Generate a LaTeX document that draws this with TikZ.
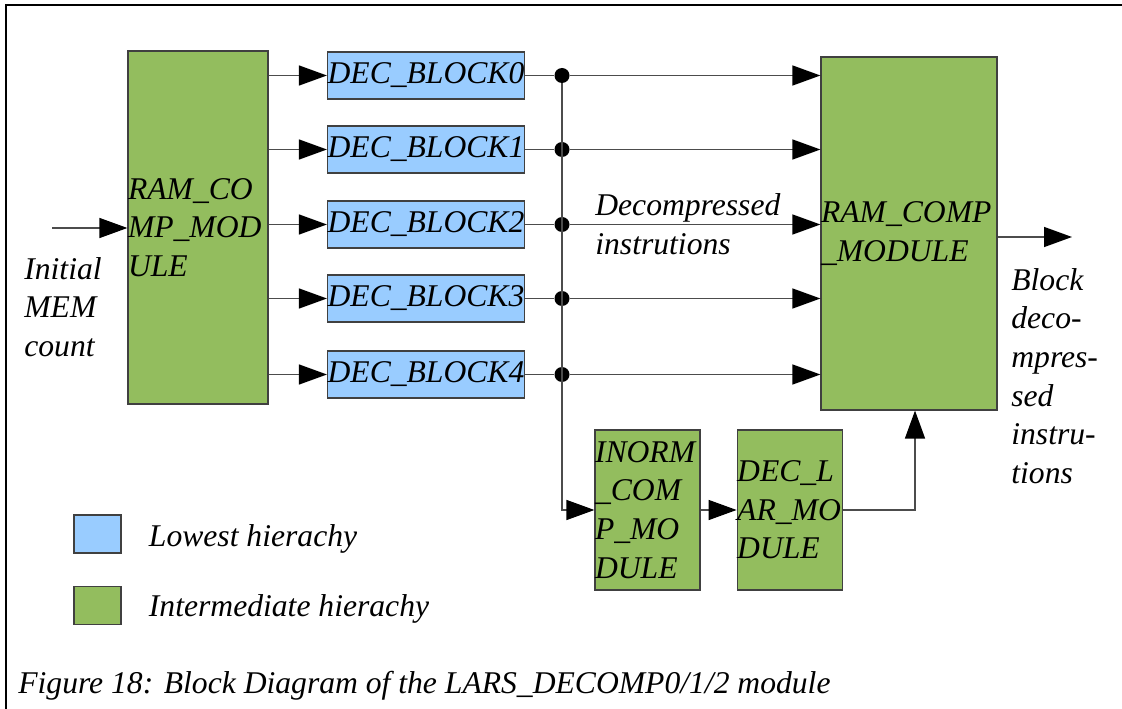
\documentclass[tikz,border=0pt]{standalone}
\usepackage{fontspec}
\setmainfont{Liberation Serif}
\usetikzlibrary{arrows.meta, positioning}
\definecolor{lowblue}{RGB}{153,204,255}
\definecolor{midgreen}{RGB}{147,189,94}
\newcommand{\diafont}{\fontsize{18}{22}\selectfont\itshape}

\begin{document}
\begin{tikzpicture}[x=0.02cm, y=-0.02cm]
    % Define styles
    \tikzstyle{every node}=[font=\diafont]
    \tikzstyle{lowest}=[draw=black!75, line width=0.7pt, fill=lowblue, inner sep=0pt]
    \tikzstyle{middle}=[draw=black!75, line width=0.7pt, fill=midgreen, inner sep=0pt, align=left]
    \tikzstyle{wire}=[black!70, line width=0.8pt]
    \tikzstyle{arr}=[wire, -{Triangle[length=0.56cm, width=0.4cm, color=black]}]
    \tikzstyle{dot}=[circle, fill=black, inner sep=0pt, minimum size=0.3cm]

    \useasboundingbox (0,0) rectangle (1122,709);
    % Frame (only left and top edges are visible)
    \draw[line width=0.6pt] (6,709) -- (6,5) -- (1122,5);

    % Left module
    \node[middle, text width=2.8cm, minimum height=7.06cm] (ramin) at (198,227.5) {RAM\_CO\\MP\_MOD\\ULE};

    % DEC blocks (lowest hierachy)
    \foreach \i/\y in {0/75.5, 1/149.5, 2/224.5, 3/298.5, 4/374.5} {
        \node[lowest, minimum width=3.94cm, minimum height=0.94cm] (dec\i) at (426,\y) {DEC\_BLOCK\i};
    }

    % Right module
    \node[middle, text width=3.52cm, minimum height=7.06cm] (ramout) at (909,233.5) {RAM\_COMP\\\_MODULE};

    % Lower modules
    \node[middle, text width=2.1cm, minimum height=3.2cm] (inorm) at (647.5,510) {INORM\\\_COM\\P\_MO\\DULE};
    \node[middle, text width=2.1cm, minimum height=3.2cm, right=0.72cm of inorm] (declar) {DEC\_L\\AR\_MO\\DULE};

    % Connectors
    \coordinate (inbeg) at (52,228);
    \draw[arr] (inbeg) -- (inbeg -| ramin.west);
    \coordinate (busx) at (562,0);
    \foreach \i in {0,...,4} {
        \draw[arr] (ramin.east |- dec\i) -- (dec\i.west);
        \node[dot] (j\i) at (dec\i.east -| busx) {};
        \draw[wire] (dec\i.east) -- (j\i);
        \draw[arr] (j\i) -- (j\i -| ramout.west);
    }
    \draw[arr] (j0) |- (inorm.west);
    \draw[arr] (inorm) -- (declar);
    \draw[arr] (declar.east) -| ([xshift=0.12cm]ramout.south);
    \coordinate (outend) at (1072,237);
    \draw[arr] (ramout.east |- outend) -- (outend);

    % Labels
    \node[anchor=west, align=left, inner sep=0pt] (initlbl) at (24,307) {Initial\\MEM\\count};
    \node[anchor=west, align=left, inner sep=0pt] (declbl) at (595,224) {Decompressed\\instrutions};
    \node[anchor=west, align=left, inner sep=0pt] (outlbl) at (1011,376) {Block\\deco-\\mpres-\\sed\\instru-\\tions};

    % Legend
    \node[lowest, minimum width=0.94cm, minimum height=0.76cm] (leglow) at (97.5,534) {};
    \node[middle, minimum width=0.94cm, minimum height=0.76cm, below=0.64cm of leglow] (legmid) {};
    \node[right=0.54cm of leglow, inner sep=0pt, yshift=-0.1cm] (leglowlbl) {Lowest hierachy};
    \node[right=0.54cm of legmid, inner sep=0pt, yshift=-0.08cm] (legmidlbl) {Intermediate hierachy};

    % Caption
    \node[anchor=base west, inner sep=0pt] (caption) at (18,693) {Figure 18: Block Diagram of the LARS\_DECOMP0/1/2 module};
\end{tikzpicture}
\end{document}
